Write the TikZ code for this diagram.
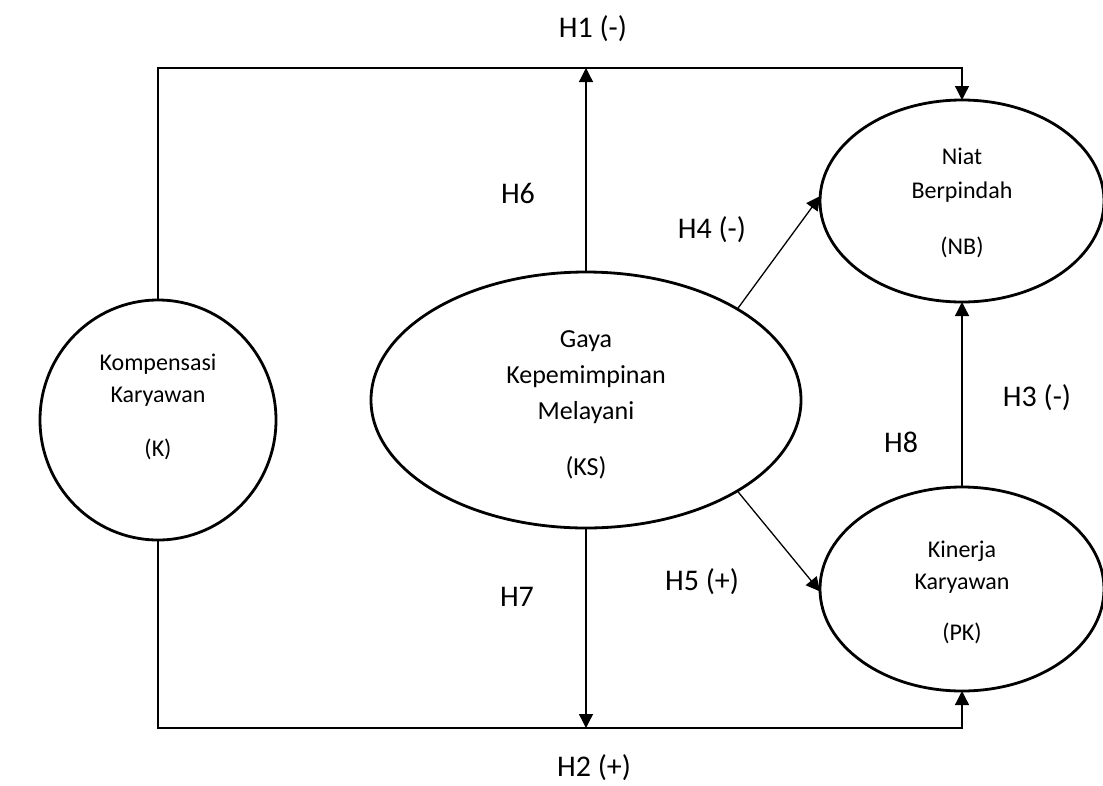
\documentclass[tikz,border=0pt]{standalone}
\usepackage{fontspec}
\setmainfont{Carlito}
\usetikzlibrary{shapes.geometric,arrows.meta}
\tikzset{
  ell/.style={ellipse,draw,line width=2.8pt,inner sep=0pt,outer sep=0pt},
  conn/.style={draw,line width=1.3pt},
  arr/.style={conn,-{Triangle[length=14pt,width=14pt]}},
  hlab/.style={font=\fontsize{30}{36}\selectfont,inner sep=0pt},
  smalltext/.style={align=center,inner sep=0pt,font=\fontsize{24}{32}\selectfont},
  bigtext/.style={align=center,inner sep=0pt,font=\fontsize{26}{36}\selectfont}
}
\begin{document}
\begin{tikzpicture}[x=1pt,y=-1pt]
\useasboundingbox (0,0) rectangle (1103,785);
% ellipses
\node[ell,minimum width=236pt,minimum height=240pt] (K) at (158,420) {};
\node[ell,minimum width=430pt,minimum height=256pt] (KS) at (586,400) {};
\node[ell,minimum width=284pt,minimum height=202pt] (NB) at (962,201) {};
\node[ell,minimum width=284pt,minimum height=204pt] (PK) at (962,589) {};
% texts
\node[smalltext] (Kt) at (158,407) {Kompensasi\\Karyawan\\[22pt](K)};
\node[bigtext] (KSt) at (586,405) {Gaya\\Kepemimpinan\\Melayani\\[20pt](KS)};
\node[bigtext,font=\fontsize{24}{34}\selectfont] (NBt) at (962,203) {Niat\\Berpindah\\[22pt](NB)};
\node[smalltext] (PKt) at (962,592) {Kinerja\\Karyawan\\[19pt](PK)};
% helper coordinates
\coordinate (T) at (160,68);
\coordinate (B) at (160,728);
% connectors
\draw[arr] (K.north) |- (NB.north |- T) -- (NB.north);
\draw[arr] (KS.north) -- (KS.north |- T);
\draw[arr] (K.south) |- (PK.south |- B) -- (PK.south);
\draw[arr] (KS.south) -- (KS.south |- B);
\draw[arr] (KS.31) -- (NB.178);
\draw[arr] (KS.-31) -- (PK.181);
\draw[arr] (PK.north) -- (NB.south);
% labels
\node[hlab] (H1) at (593,29) {H1 (-)};
\node[hlab] (H2) at (594,768) {H2 (+)};
\node[hlab] (H6) at (518,193) {H6};
\node[hlab] (H4) at (712,230) {H4 (-)};
\node[hlab] (H7) at (517,597) {H7};
\node[hlab] (H5) at (702,582) {H5 (+)};
\node[hlab] (H8) at (901,442) {H8};
\node[hlab] (H3) at (1037,398) {H3 (-)};
\end{tikzpicture}
\end{document}
